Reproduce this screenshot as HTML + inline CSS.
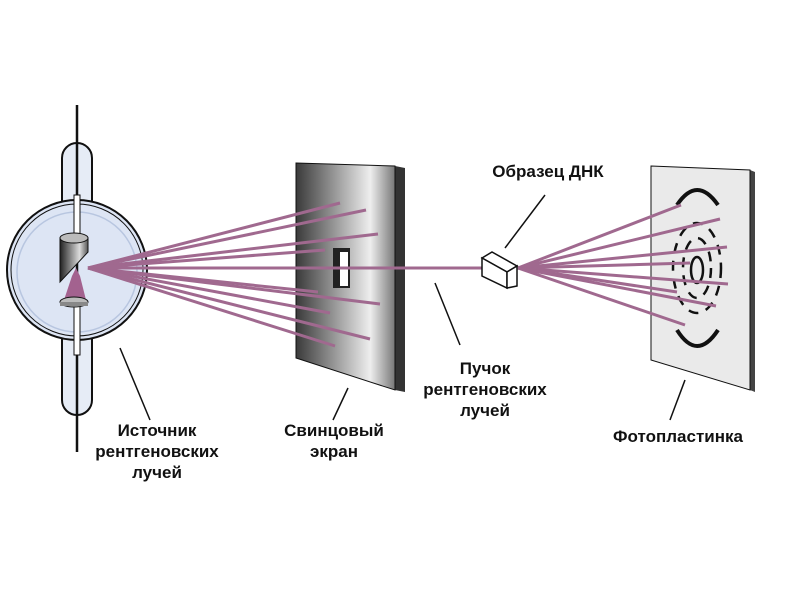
<!DOCTYPE html><html><head><meta charset="utf-8"><style>body{margin:0;background:#fff}svg{display:block}text{font-family:"Liberation Sans",sans-serif;font-weight:bold;font-size:17px;fill:#111;text-anchor:middle}</style></head><body>
<svg width="800" height="600" viewBox="0 0 800 600">
<defs>
<linearGradient id="sg" x1="0" x2="1"><stop offset="0" stop-color="#3a3a3a"/><stop offset="0.75" stop-color="#eeeeee"/><stop offset="1" stop-color="#777"/></linearGradient>
<linearGradient id="cg" x1="0" x2="1"><stop offset="0" stop-color="#222"/><stop offset="0.7" stop-color="#ddd"/><stop offset="1" stop-color="#555"/></linearGradient>
</defs>
<!-- tube -->
<line x1="77" y1="105" x2="77" y2="452" stroke="#111" stroke-width="2.5"/>
<rect x="62" y="143" width="30" height="110" rx="15" fill="#e6ecf6" stroke="#111" stroke-width="2"/>
<rect x="62" y="290" width="30" height="125" rx="15" fill="#e6ecf6" stroke="#111" stroke-width="2"/>
<circle cx="77" cy="270" r="70" fill="#dde5f4" stroke="#111" stroke-width="2"/>
<circle cx="77" cy="270" r="66" fill="none" stroke="#111" stroke-width="1"/>
<circle cx="77" cy="272" r="60" fill="none" stroke="#b8c6e0" stroke-width="1.5"/>
<line x1="77" y1="143" x2="77" y2="415" stroke="#111" stroke-width="2.5"/>
<rect x="74" y="195" width="6" height="40" fill="#fff" stroke="#111"/>
<rect x="74" y="305" width="6" height="50" fill="#fff" stroke="#111"/>
<path d="M60 238 L60 282 L88 252 L88 238 Z" fill="url(#cg)" stroke="#111"/>
<ellipse cx="74" cy="238" rx="14" ry="5" fill="#bbb" stroke="#111"/>
<path d="M64 300 L72 276 L76 268 L80 276 L86 300 Z" fill="#a3628f"/>
<ellipse cx="74" cy="302" rx="14" ry="5" fill="#bbb" stroke="#111"/>
<rect x="60" y="302" width="28" height="4" fill="#888"/>
<!-- screen -->
<polygon points="395,166 405,168 405,392 395,390" fill="#333"/>
<polygon points="296,163 395,166 395,390 296,358" fill="url(#sg)" stroke="#111"/>
<rect x="333" y="248" width="17" height="40" fill="#222"/>
<rect x="340" y="252" width="8" height="34" fill="#fff"/>
<!-- plate -->
<polygon points="750,170 755,172 755,392 750,390" fill="#444"/>
<polygon points="651,166 750,170 750,390 651,360" fill="#eaeaea" stroke="#111"/>
<g stroke="#111" stroke-width="4" fill="none">
<path d="M677 205 Q697 175 718 205"/><path d="M677 330 Q697 362 718 330"/>
<g stroke-width="2.5" stroke-dasharray="10 8">
<ellipse cx="697" cy="268" rx="24" ry="45"/><ellipse cx="697" cy="268" rx="14" ry="30"/>
</g>
<ellipse cx="697" cy="270" rx="6" ry="13" stroke-width="2.5"/>
</g>
<!-- rays -->
<g stroke="#a0698f" stroke-width="3" fill="none">
<line x1="88" y1="268" x2="340" y2="203"/><line x1="88" y1="268" x2="366" y2="210"/>
<line x1="88" y1="268" x2="378" y2="234"/><line x1="88" y1="268" x2="325" y2="250"/>
<line x1="88" y1="268" x2="483" y2="268"/><line x1="88" y1="268" x2="318" y2="292"/>
<line x1="88" y1="268" x2="380" y2="304"/><line x1="88" y1="268" x2="330" y2="313"/>
<line x1="88" y1="268" x2="370" y2="339"/><line x1="88" y1="268" x2="335" y2="346"/>
<line x1="518" y1="268" x2="681" y2="205"/><line x1="518" y1="268" x2="720" y2="219"/>
<line x1="518" y1="268" x2="727" y2="247"/><line x1="518" y1="268" x2="690" y2="263"/>
<line x1="518" y1="268" x2="728" y2="284"/><line x1="518" y1="268" x2="677" y2="292"/>
<line x1="518" y1="268" x2="716" y2="306"/><line x1="518" y1="268" x2="685" y2="325"/>
</g>
<!-- cube -->
<g fill="#fff" stroke="#111" stroke-width="1.5">
<polygon points="482,258 492,252 517,266 507,272"/>
<polygon points="482,258 507,272 507,288 482,276"/>
<polygon points="507,272 517,266 517,286 507,288"/>
</g>
<line x1="505" y1="248" x2="545" y2="195" stroke="#111" stroke-width="1.5"/>
<!-- leaders -->
<g stroke="#111" stroke-width="1.5">
<line x1="120" y1="348" x2="150" y2="420"/><line x1="348" y1="388" x2="333" y2="420"/>
<line x1="435" y1="283" x2="460" y2="345"/><line x1="685" y1="380" x2="670" y2="420"/>
</g>
<text x="548" y="177">Образец ДНК</text>
<text x="485" y="374">Пучок</text><text x="485" y="395">рентгеновских</text><text x="485" y="416">лучей</text>
<text x="334" y="436">Свинцовый</text><text x="334" y="457">экран</text>
<text x="678" y="442">Фотопластинка</text>
<text x="157" y="436">Источник</text><text x="157" y="457">рентгеновских</text><text x="157" y="478">лучей</text>
</svg></body></html>
